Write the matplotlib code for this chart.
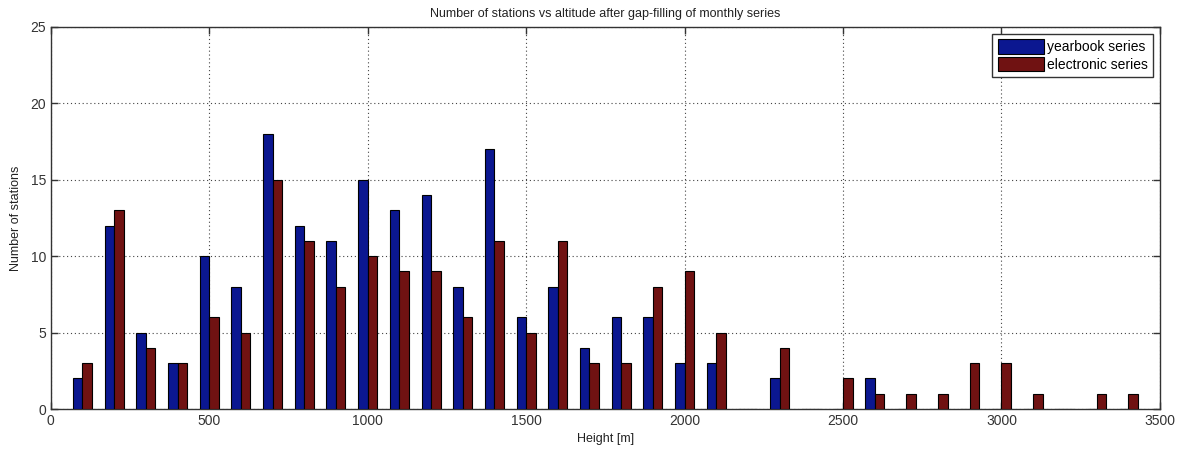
import matplotlib.pyplot as plt
import numpy as np

# Station counts per 100 m altitude band
heights = [100, 200, 300, 400, 500, 600, 700, 800, 900, 1000, 1100, 1200,
           1300, 1400, 1500, 1600, 1700, 1800, 1900, 2000, 2100, 2200, 2300,
           2400, 2500, 2600, 2700, 2800, 2900, 3000, 3100, 3200, 3300, 3400]
yearbook = [2, 12, 5, 3, 10, 8, 18, 12, 11, 15, 13, 14,
            8, 17, 6, 8, 4, 6, 6, 3, 3, 0, 2,
            0, 0, 2, 0, 0, 0, 0, 0, 0, 0, 0]
electronic = [3, 13, 4, 3, 6, 5, 15, 11, 8, 10, 9, 9,
              6, 11, 5, 11, 3, 3, 8, 9, 5, 0, 4,
              0, 2, 1, 1, 1, 3, 3, 1, 0, 1, 1]

x = np.array(heights)
bar_width = 30

plt.rcParams['font.family'] = ['Liberation Sans', 'DejaVu Sans']

fig = plt.figure(figsize=(11.8, 4.55), dpi=100)
ax = fig.add_axes([0.043, 0.101, 0.940, 0.840])

ax.bar(x - bar_width / 2, yearbook, width=bar_width, color='#0b1790',
       edgecolor='black', linewidth=0.8, label='yearbook series', zorder=3)
ax.bar(x + bar_width / 2, electronic, width=bar_width, color='#701212',
       edgecolor='black', linewidth=0.8, label='electronic series', zorder=3)

ax.set_xlim(0, 3500)
ax.set_ylim(0, 25)
ax.set_xticks(np.arange(0, 3501, 500))
ax.set_yticks(np.arange(0, 26, 5))
ax.tick_params(direction='in', top=True, right=True, labelsize=10,
               length=5, width=1, colors='#333333', labelcolor='#333333')
ax.grid(True, linestyle=(0, (1, 2.5)), color='#444444', linewidth=0.8, zorder=0)
for s in ax.spines.values():
    s.set_color('#333333')
    s.set_linewidth(1)

ax.set_title('Number of stations vs altitude after gap-filling of monthly series',
             fontsize=9, color='#222222', pad=7)
ax.set_xlabel('Height [m]', fontsize=9, color='#222222', labelpad=4)
ax.set_ylabel('Number of stations', fontsize=9, color='#222222', labelpad=6)

leg = ax.legend(loc='upper right', fontsize=10, fancybox=False, framealpha=1,
                edgecolor='#333333', handlelength=3.3, handleheight=1.2,
                handletextpad=0.2, borderpad=0.4, labelspacing=0.2,
                borderaxespad=0.5)
leg.get_frame().set_linewidth(1)

fig.savefig('out.png', dpi=100)
